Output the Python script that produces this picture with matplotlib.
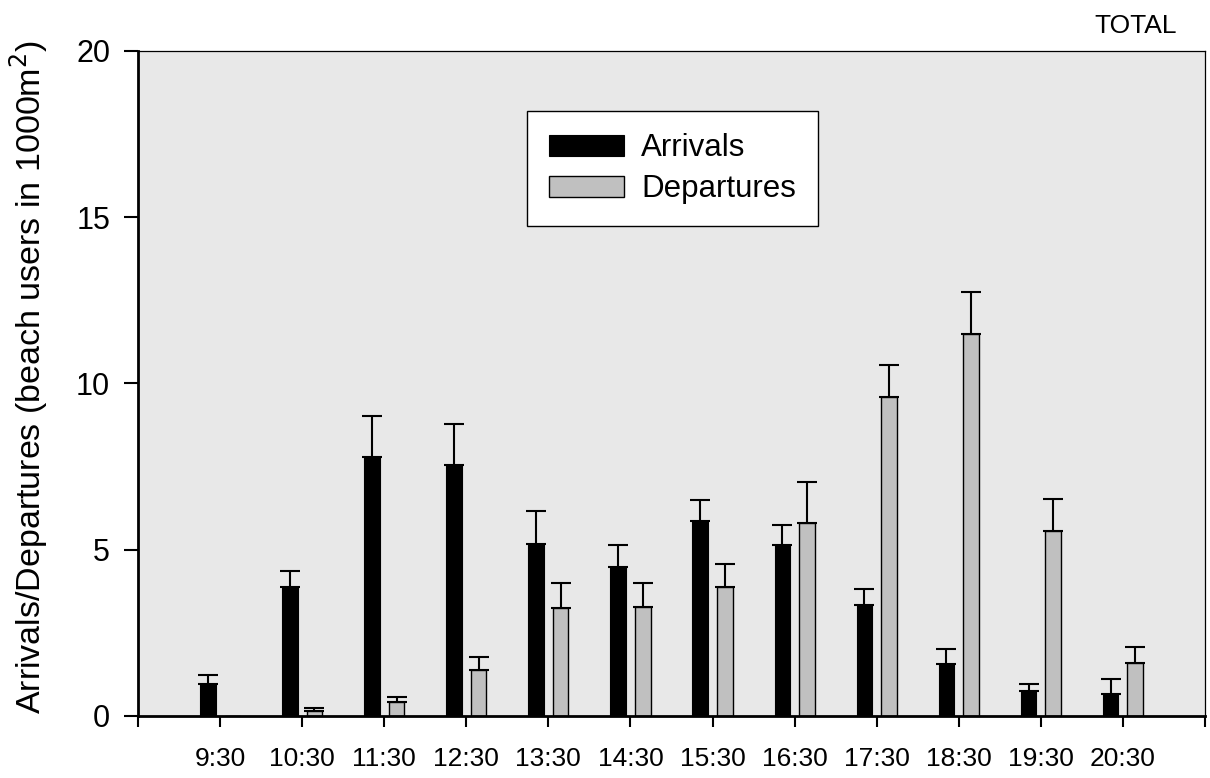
import matplotlib
matplotlib.use("Agg")
import matplotlib.pyplot as plt
import numpy as np

plt.rcParams["font.family"] = ["Liberation Sans", "DejaVu Sans"]

times = ["9:30", "10:30", "11:30", "12:30", "13:30", "14:30",
         "15:30", "16:30", "17:30", "18:30", "19:30", "20:30"]
arrivals = [0.95, 3.88, 7.78, 7.55, 5.18, 4.47, 5.85, 5.15, 3.33, 1.56, 0.74, 0.66]
arrivals_err = [0.29, 0.48, 1.23, 1.22, 0.98, 0.66, 0.63, 0.59, 0.48, 0.45, 0.22, 0.46]
departures = [0.0, 0.15, 0.42, 1.37, 3.25, 3.28, 3.88, 5.80, 9.58, 11.48, 5.57, 1.60]
departures_err = [0.0, 0.10, 0.15, 0.40, 0.76, 0.73, 0.70, 1.22, 0.98, 1.28, 0.95, 0.48]

fig = plt.figure(figsize=(12.1, 7.78), dpi=100)
ax = fig.add_axes([0.114, 0.0797, 0.8819, 0.8551])
ax.set_facecolor("#e8e8e8")

x = np.arange(1, len(times) + 1)
w = 0.19
err_kw = dict(elinewidth=1.5, capthick=1.5, capsize=7.5, ecolor="black")

ax.bar(x - 0.15, arrivals, w, color="black", edgecolor="black", linewidth=0.8,
       label="Arrivals", zorder=2)
ax.errorbar(x - 0.15, arrivals, yerr=[np.zeros(len(x)), arrivals_err],
            fmt="none", zorder=1, **err_kw)
ax.bar(x + 0.15, departures, w, color="#c0c0c0", edgecolor="black", linewidth=1.0,
       label="Departures", zorder=2)
dep_x = [xi for xi, d in zip(x, departures) if d > 0]
dep_v = [d for d in departures if d > 0]
dep_e = [e for d, e in zip(departures, departures_err) if d > 0]
ax.errorbar(np.array(dep_x) + 0.15, dep_v, yerr=[np.zeros(len(dep_v)), dep_e],
            fmt="none", zorder=1, **err_kw)

ax.set_xlim(0, 13)
ax.set_ylim(0, 20)
ax.set_xticks(np.arange(0, 14))
ax.set_xticklabels([""] + times + [""])
ax.set_yticks([0, 5, 10, 15, 20])

for side in ["top", "right"]:
    ax.spines[side].set_linewidth(0.9)
for side in ["left", "bottom"]:
    ax.spines[side].set_linewidth(2.0)

ax.tick_params(axis="x", direction="out", length=8, width=1.5, labelsize=19, pad=14)
ax.tick_params(axis="y", direction="out", length=10, width=1.5, labelsize=22, pad=10)

ax.set_ylabel("Arrivals/Departures (beach users in 1000m$^2$)", fontsize=24.5, labelpad=16)
ax.yaxis.set_label_coords(-0.082, 0.51)

leg = ax.legend(loc="upper left", bbox_to_anchor=(0.3646, 0.909), fontsize=22.5,
                frameon=True, fancybox=False, edgecolor="black", framealpha=1,
                handlelength=2.4, handleheight=0.65, labelspacing=0.36,
                borderpad=0.7, handletextpad=0.55, borderaxespad=0)
leg.get_frame().set_linewidth(1.0)

fig.text(0.9727, 0.966, "TOTAL", ha="right", va="center", fontsize=19)

fig.savefig("out.png", dpi=100)
